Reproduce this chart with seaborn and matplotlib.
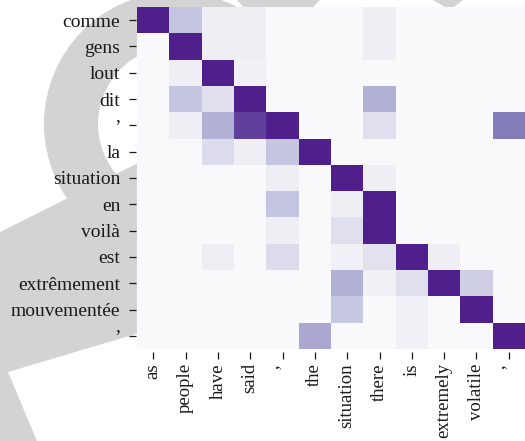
import numpy as np
import seaborn as sns
import matplotlib.pyplot as plt
from matplotlib.patches import Wedge, Polygon
from matplotlib.transforms import Affine2D

# French source tokens (rows) and English target tokens (columns)
source_tokens = ["comme", "gens", "lout", "dit", "’", "la", "situation", "en",
                 "voilà", "est", "extrêmement", "mouvementée", "’"]
target_tokens = ["as", "people", "have", "said", "’", "the", "situation",
                 "there", "is", "extremely", "volatile", "’"]

# attention weights, one list per source token
w_comme       = [0.90, 0.34, 0.12, 0.12, 0.03, 0.03, 0.03, 0.12, 0.03, 0.03, 0.03, 0.03]
w_gens        = [0.03, 0.90, 0.12, 0.12, 0.03, 0.03, 0.03, 0.12, 0.03, 0.03, 0.03, 0.03]
w_lout        = [0.03, 0.12, 0.90, 0.10, 0.03, 0.03, 0.03, 0.03, 0.03, 0.03, 0.03, 0.03]
w_dit         = [0.03, 0.34, 0.22, 0.90, 0.03, 0.03, 0.03, 0.42, 0.03, 0.03, 0.03, 0.03]
w_apos1       = [0.03, 0.12, 0.42, 0.80, 0.90, 0.03, 0.03, 0.22, 0.03, 0.03, 0.03, 0.62]
w_la          = [0.03, 0.03, 0.24, 0.12, 0.34, 0.90, 0.03, 0.03, 0.03, 0.03, 0.03, 0.03]
w_situation   = [0.03, 0.03, 0.03, 0.03, 0.12, 0.03, 0.90, 0.12, 0.03, 0.03, 0.03, 0.03]
w_en          = [0.03, 0.03, 0.03, 0.03, 0.34, 0.03, 0.12, 0.90, 0.03, 0.03, 0.03, 0.03]
w_voila       = [0.03, 0.03, 0.03, 0.03, 0.12, 0.03, 0.22, 0.90, 0.03, 0.03, 0.03, 0.03]
w_est         = [0.03, 0.03, 0.12, 0.03, 0.24, 0.03, 0.10, 0.20, 0.90, 0.12, 0.03, 0.03]
w_extremement = [0.03, 0.03, 0.03, 0.03, 0.03, 0.03, 0.42, 0.10, 0.22, 0.90, 0.30, 0.03]
w_mouvementee = [0.03, 0.03, 0.03, 0.03, 0.03, 0.03, 0.33, 0.03, 0.10, 0.03, 0.90, 0.03]
w_apos2       = [0.03, 0.03, 0.03, 0.03, 0.03, 0.45, 0.03, 0.03, 0.10, 0.03, 0.03, 0.90]

weights = np.array([w_comme, w_gens, w_lout, w_dit, w_apos1, w_la, w_situation,
                    w_en, w_voila, w_est, w_extremement, w_mouvementee, w_apos2])

sns.set_theme(style="white")
plt.rcParams["font.family"] = ["Liberation Serif", "DejaVu Serif"]

W, H = 525, 441
fig = plt.figure(figsize=(W / 100, H / 100), dpi=100)
fig.patch.set_facecolor("white")

# pixel coordinates with the origin at the top-left corner
px = Affine2D().scale(1 / W, -1 / H).translate(0, 1) + fig.transFigure

# grey logo shapes behind the figure
grey = "#d3d3d3"
fig.patches.append(Wedge((176, 124), 132, 0, 360, width=54, transform=px,
                         facecolor=grey, edgecolor="none", zorder=-10))
fig.patches.append(Polygon([(0, 232), (250, 107), (250, 300), (8, 372),
                            (37, 441), (0, 441)], closed=True, transform=px,
                           facecolor=grey, edgecolor="none", zorder=-10))
fig.patches.append(Polygon([(237, 0), (320, 0), (300, 20), (255, 20)],
                           closed=True, transform=px,
                           facecolor=grey, edgecolor="none", zorder=-10))
fig.patches.append(Polygon([(433, 0), (463, 0), (450, 10)], closed=True,
                           transform=px, facecolor=grey, edgecolor="none",
                           zorder=-10))

ax = fig.add_axes([137 / W, 1 - 349 / H, 388 / W, 342 / H])
sns.heatmap(weights, cmap="Purples", vmin=0, vmax=1, cbar=False,
            xticklabels=target_tokens, yticklabels=source_tokens, ax=ax)

ax.spines["left"].set_position(("outward", 0.5))
ax.spines["bottom"].set_position(("outward", 2.2))
ax.tick_params(axis="both", which="major", length=5, width=0.9,
               color="#1a1a1a", labelcolor="#1a1a1a", labelsize=14,
               left=True, bottom=True)
ax.tick_params(axis="y", pad=6.5)
ax.tick_params(axis="x", pad=3, labelsize=13.5)
plt.setp(ax.get_xticklabels(), rotation=90)
plt.setp(ax.get_yticklabels(), rotation=0)

fig.savefig("out.png", dpi=100, facecolor="white")
